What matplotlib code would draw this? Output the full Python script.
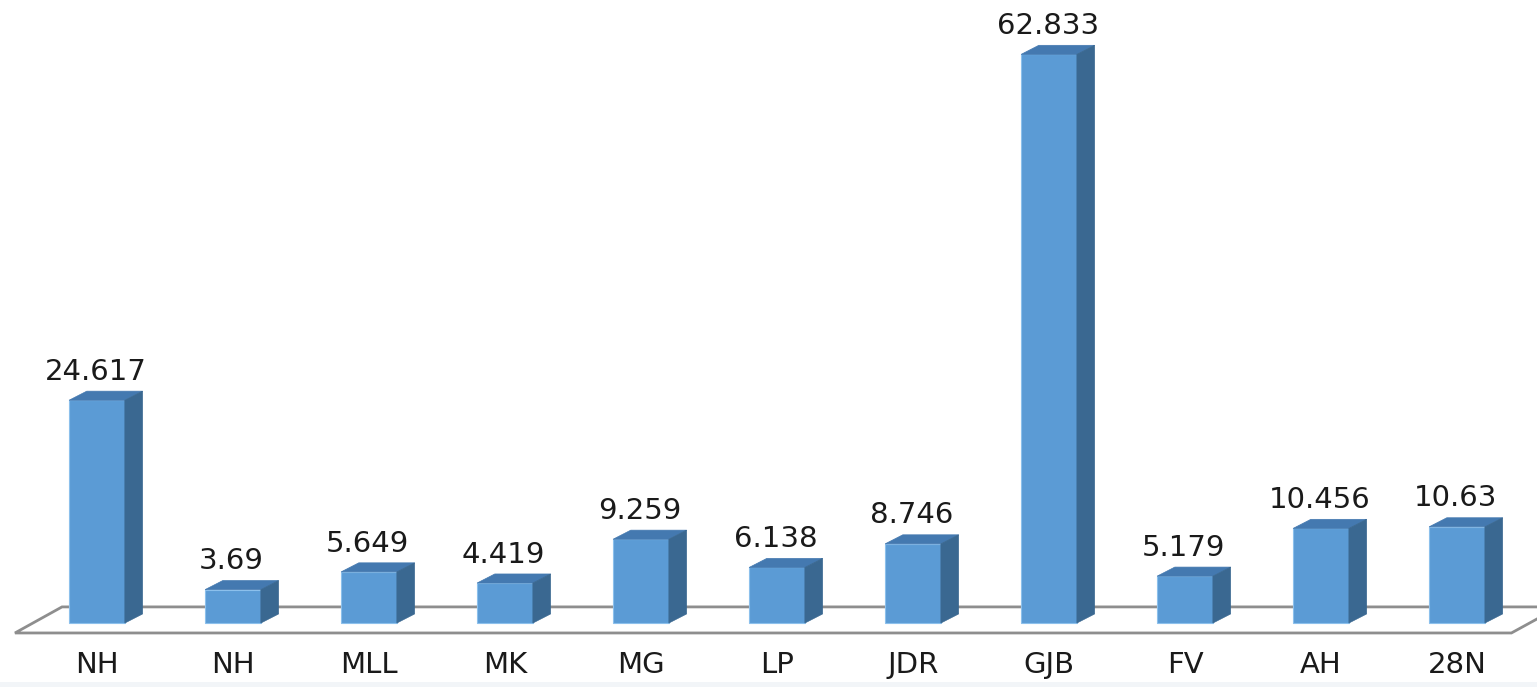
import matplotlib
matplotlib.use("Agg")
import matplotlib.pyplot as plt
from matplotlib.patches import Polygon, Rectangle

# Data
categories = ["NH", "NH", "MLL", "MK", "MG", "LP", "JDR", "GJB", "FV", "AH", "28N"]
values = [24.617, 3.69, 5.649, 4.419, 9.259, 6.138, 8.746, 62.833, 5.179, 10.456, 10.63]
value_labels = ["24.617", "3.69", "5.649", "4.419", "9.259", "6.138", "8.746",
                "62.833", "5.179", "10.456", "10.63"]

# Styling
FRONT = "#5B9BD5"
TOP = "#4479B0"
SIDE = "#3A6891"
FLOOR = "#8E8E8E"
BAR_W = 0.41          # front face width (category units)
DX, DY = 0.13, 1.0    # oblique depth offset of each bar
FONT = ["DejaVu Sans"]

fig = plt.figure(figsize=(15.37, 6.87), dpi=100)
ax = fig.add_axes([0, 0, 1, 1])
ax.set_xlim(-0.713, 10.588)
ax.set_ylim(-7.07, 68.84)
ax.axis("off")

# faint strip at the very bottom
ax.add_patch(Rectangle((-1, -7.07), 13, 0.6, facecolor="#F2F5F8",
                       edgecolor="none", zorder=0))

# floor outline (oblique parallelogram)
floor = Polygon([(-0.603, -1.1), (10.40, -1.1), (10.75, 1.78), (-0.257, 1.78)],
                closed=True, facecolor="white", edgecolor=FLOOR, lw=2.0, zorder=1)
ax.add_patch(floor)

x = list(range(len(categories)))
bars = ax.bar(x, values, width=BAR_W, color=FRONT, edgecolor="#8CC0EC",
              linewidth=0.8, zorder=3)

for rect, v in zip(bars, values):
    x0 = rect.get_x()
    x1 = x0 + rect.get_width()
    top = Polygon([(x0, v), (x1, v), (x1 + DX, v + DY), (x0 + DX, v + DY)],
                  closed=True, facecolor=TOP, edgecolor=TOP, lw=0.5, zorder=3)
    side = Polygon([(x1, 0), (x1 + DX, DY), (x1 + DX, v + DY), (x1, v)],
                   closed=True, facecolor=SIDE, edgecolor=SIDE, lw=0.5, zorder=3)
    ax.add_patch(top)
    ax.add_patch(side)

for xi, v, lab in zip(x, values, value_labels):
    ax.text(xi - 0.01, v + DY + 1.25, lab, ha="center", va="baseline",
            fontsize=21, family=FONT, color="#1A1A1A", zorder=4)

for xi, c in zip(x, categories):
    ax.text(xi, -4.64, c, ha="center", va="center", fontsize=21,
            family=FONT, color="#1A1A1A", zorder=4)

fig.savefig("out.png", dpi=100)
